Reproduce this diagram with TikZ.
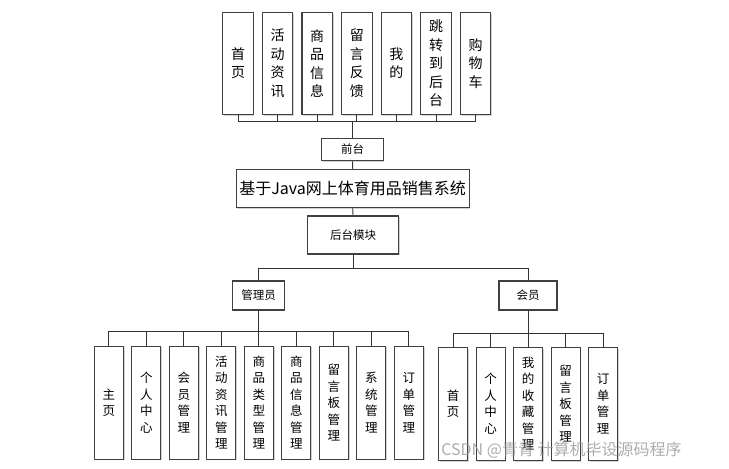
\documentclass[tikz,border=0pt]{standalone}
\usepackage{fontspec}
\setmainfont{Noto Sans CJK SC}
\usetikzlibrary{shadows}
\tikzset{
  caja/.style={draw=black!75, line width=1.1pt, fill=white, inner sep=0pt, align=center,
    drop shadow={shadow xshift=1.2pt, shadow yshift=-1.2pt, opacity=0.35}},
  alta/.style={caja, minimum width=30.5pt, minimum height=102pt, font=\fontsize{14}{18.5}\selectfont},
  baja/.style={caja, minimum width=29pt, minimum height=113pt, font=\fontsize{12.5}{16.5}\selectfont},
  etiqueta/.style={caja, font=\fontsize{11.5}{14}\selectfont},
  linea/.style={draw=black!80, line width=0.9pt}
}
\begin{document}
\begin{tikzpicture}[x=1pt, y=-1pt]
    \useasboundingbox (0,0) rectangle (729,469);
    % Caja principal
    \node[caja, minimum width=233pt, minimum height=38pt, font=\fontsize{16}{18}\selectfont] (sistema) at (352.7,188.3) {基于Java网上体育用品销售系统};
    \node[etiqueta, minimum width=61.5pt, minimum height=22.5pt] (qiantai) at (352.5,149.5) {前台};
    \node[etiqueta, minimum width=91.5pt, minimum height=38pt] (houtai) at (353,235) {后台模块};
    \node[etiqueta, minimum width=51.5pt, minimum height=29pt] (admin) at (258.5,295.5) {管理员};
    \node[etiqueta, minimum width=58pt, minimum height=29pt] (huiyuan) at (528,295.5) {会员};

    % Modulos del frente
    \foreach \t [count=\i] in {{首\\页},{活\\动\\资\\讯},{商\\品\\信\\息},{留\\言\\反\\馈},{我\\的},{跳\\转\\到\\后\\台},{购\\物\\车}}
        \node[alta] (f\i) at ({238+(\i-1)*39.6},63.3) {\t};

    % Modulos del administrador
    \foreach \t [count=\i] in {{主\\页},{个\\人\\中\\心},{会\\员\\管\\理},{活\\动\\资\\讯\\管\\理},{商\\品\\类\\型\\管\\理},{商\\品\\信\\息\\管\\理},{留\\言\\板\\管\\理},{系\\统\\管\\理},{订\\单\\管\\理}}
        \node[baja] (a\i) at ({108.8+(\i-1)*37.5},402.7) {\t};

    % Modulos del miembro
    \foreach \t [count=\i] in {{首\\页},{个\\人\\中\\心},{我\\的\\收\\藏\\管\\理},{留\\言\\板\\管\\理},{订\\单\\管\\理}}
        \node[baja] (m\i) at ({453.2+(\i-1)*37.5},403.8) {\t};

    % Aristas
    \foreach \i in {1,...,7}
        \draw[linea] (f\i.south) -- ++(0,6.4) -| (qiantai.north);
    \draw[linea] (qiantai.south) -- (sistema.north);
    \draw[linea] (sistema.south) -- (houtai.north);
    \draw[linea] (houtai.south) -- ++(0,14) -| (admin.north);
    \draw[linea] (houtai.south) -- ++(0,14) -| (huiyuan.north);
    \foreach \i in {1,...,9}
        \draw[linea] (admin.south) -- ++(0,21) -| (a\i.north);
    \foreach \i in {1,...,5}
        \draw[linea] (huiyuan.south) -- ++(0,22.7) -| (m\i.north);

    % Marca de agua
    \node[text=black!40, opacity=0.8, font=\fontsize{16}{18}\selectfont, inner sep=0pt] (marca) at (561.5,450) {CSDN @青青 计算机毕设源码程序};
\end{tikzpicture}
\end{document}
